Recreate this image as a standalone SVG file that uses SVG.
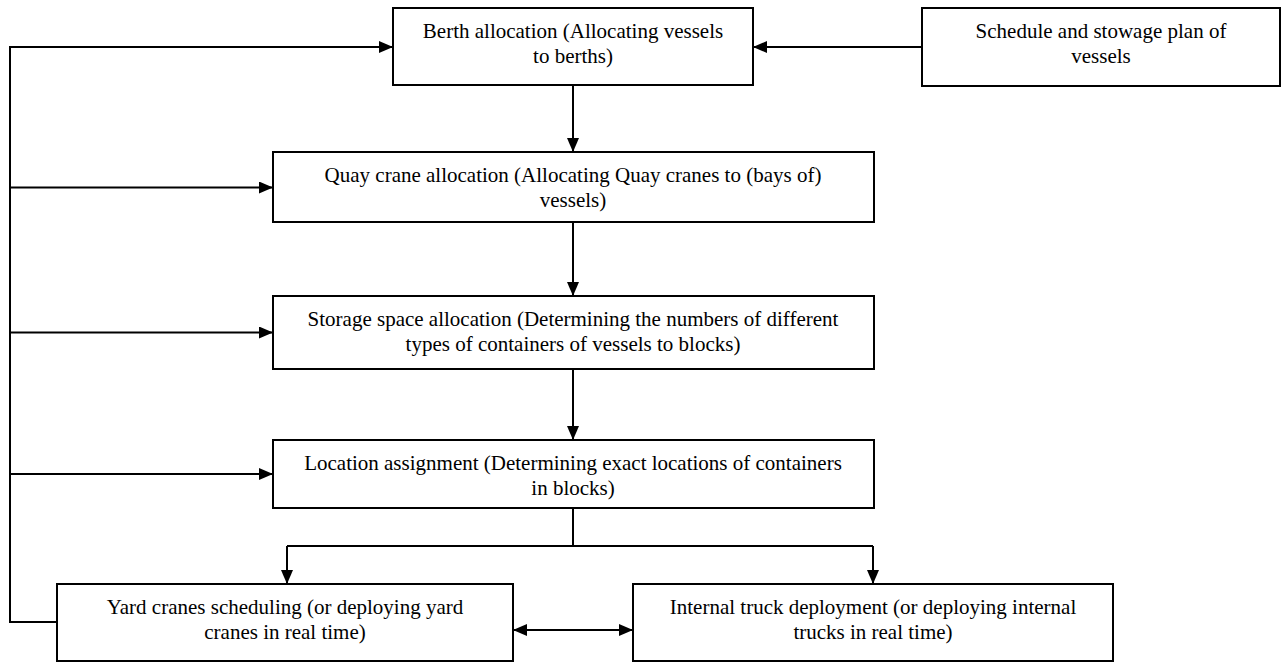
<svg xmlns="http://www.w3.org/2000/svg" width="1283" height="662" viewBox="0 0 1283 662">
<defs>
<marker id="ah" markerUnits="userSpaceOnUse" markerWidth="14" markerHeight="12" refX="14" refY="6" orient="auto-start-reverse"><path d="M0,0 L14,6 L0,12 Z" fill="#000"/></marker>
<style>
.box{fill:#fff;stroke:#000;stroke-width:2}
.t{font-family:"Times New Roman","Liberation Serif",Tinos,serif;font-size:21px;fill:#000;text-anchor:middle}
.c{fill:none;stroke:#000;stroke-width:2}
.a{marker-end:url(#ah)}
</style>
</defs>
<rect width="1283" height="662" fill="#fff"/>
<g id="connectors">
<path class="c" d="M57,622 H10 V47" stroke-width="2.5"/>
<path class="c a" d="M9,47 H393"/>
<path class="c a" d="M10,187.5 H273"/>
<path class="c a" d="M10,332.5 H273"/>
<path class="c a" d="M10,474 H273"/>
<path class="c a" d="M922,47 H753"/>
<path class="c a" d="M573,85 V152"/>
<path class="c a" d="M573,222 V296"/>
<path class="c a" d="M573,369 V440"/>
<path class="c" d="M573,508 V546 M287,546 H873"/>
<path class="c a" d="M287,546 V584"/>
<path class="c a" d="M873,546 V584"/>
<path class="c" d="M513,630 H633" marker-start="url(#ah)" marker-end="url(#ah)"/>
</g>
<g id="berth"><rect class="box" x="393" y="8" width="360" height="77"/><text class="t" x="573" y="38">Berth allocation (Allocating vessels</text><text class="t" x="573" y="63">to berths)</text></g>
<g id="schedule"><rect class="box" x="922" y="8" width="358" height="78"/><text class="t" x="1101" y="38">Schedule and stowage plan of</text><text class="t" x="1101" y="63">vessels</text></g>
<g id="quay"><rect class="box" x="273" y="152" width="601" height="70"/><text class="t" x="573" y="182">Quay crane allocation (Allocating Quay cranes to (bays of)</text><text class="t" x="573" y="207">vessels)</text></g>
<g id="storage"><rect class="box" x="273" y="296" width="601" height="73"/><text class="t" x="573" y="326">Storage space allocation (Determining the numbers of different</text><text class="t" x="573" y="351">types of containers of vessels to blocks)</text></g>
<g id="location"><rect class="box" x="273" y="440" width="601" height="68"/><text class="t" x="573" y="470">Location assignment (Determining exact locations of containers</text><text class="t" x="573" y="495">in blocks)</text></g>
<g id="yard"><rect class="box" x="57" y="584" width="456" height="77"/><text class="t" x="285" y="614">Yard cranes scheduling (or deploying yard</text><text class="t" x="285" y="639">cranes in real time)</text></g>
<g id="internal"><rect class="box" x="633" y="584" width="480" height="77"/><text class="t" x="873" y="614">Internal truck deployment (or deploying internal</text><text class="t" x="873" y="639">trucks in real time)</text></g>
</svg>
